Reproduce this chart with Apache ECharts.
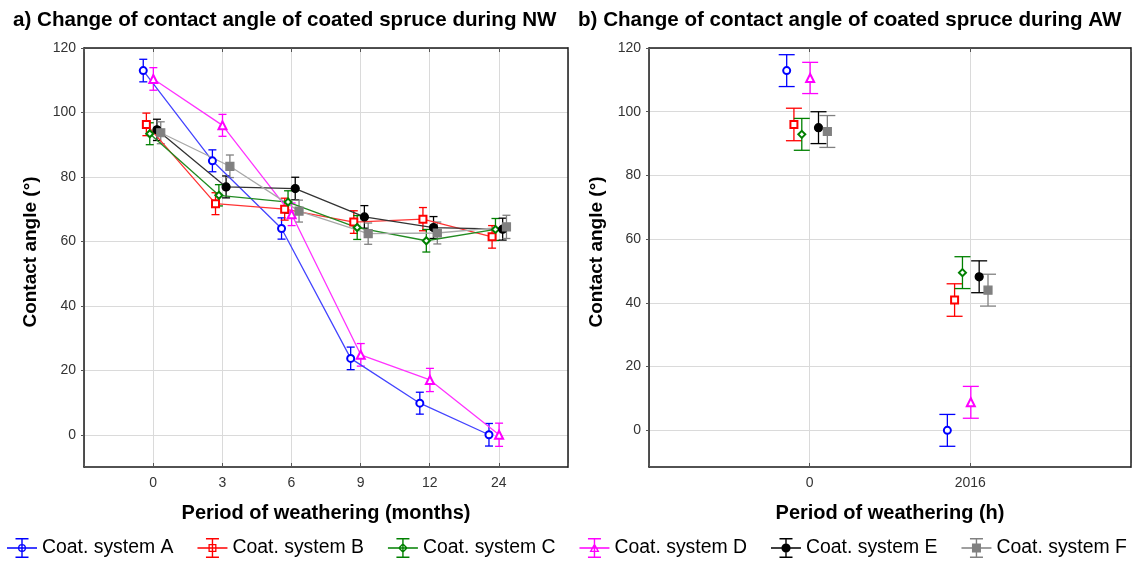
<!DOCTYPE html>
<html><head><meta charset="utf-8">
<script src="https://cdn.jsdelivr.net/npm/echarts@6/dist/echarts.min.js"></script>
<style>html,body{margin:0;padding:0;background:#fff}#c{width:1147px;height:561px}</style>
</head><body><div id="c"></div>
<script>
// ---- data ----
const monthLabels = ['0', '3', '6', '9', '12', '24'];
const hourLabels = ['0', '2016'];
const yTicks = [0, 20, 40, 60, 80, 100, 120];
const seriesNames = ['Coat. system A', 'Coat. system B', 'Coat. system C', 'Coat. system D', 'Coat. system E', 'Coat. system F'];

// a) natural weathering (NW): mean contact angle and error (±)
const nwA = [113.0, 85.0, 64.0, 23.7, 9.8, 0.0];
const nwB = [96.3, 71.7, 70.0, 66.0, 66.9, 61.4];
const nwC = [93.4, 74.3, 72.2, 64.3, 60.2, 63.7];
const nwD = [110.4, 96.0, 68.4, 24.8, 17.0, 0.0];
const nwE = [94.6, 76.9, 76.4, 67.6, 64.3, 63.8];
const nwF = [93.7, 83.3, 69.4, 62.4, 62.6, 64.5];
const nwErrA = [3.5, 3.4, 3.3, 3.5, 3.4, 3.5];
const nwErrB = [3.5, 3.4, 3.4, 3.5, 3.6, 3.5];
const nwErrC = [3.4, 3.3, 3.5, 3.7, 3.5, 3.4];
const nwErrD = [3.5, 3.4, 3.5, 3.5, 3.6, 3.6];
const nwErrE = [3.3, 3.4, 3.5, 3.5, 3.4, 3.4];
const nwErrF = [3.4, 3.5, 3.4, 3.3, 3.4, 3.6];

// b) artificial weathering (AW)
const awA = [112.9, 0.0];
const awB = [96.0, 40.9];
const awC = [92.9, 49.5];
const awD = [110.6, 8.8];
const awE = [95.0, 48.2];
const awF = [93.8, 44.0];
const awErrA = [5.0, 5.0];
const awErrB = [5.1, 5.1];
const awErrC = [5.0, 5.0];
const awErrD = [4.9, 5.0];
const awErrE = [5.0, 5.0];
const awErrF = [5.0, 5.0];

// ---- styling ----
const FONT = "'Liberation Sans', Arial, sans-serif";
const colors = ['#0000ff', '#ff0000', '#008000', '#ff00ff', '#000000', '#808080'];
const lineColors = ['#4444ff', '#ff3333', '#228b22', '#ff33ff', '#333333', '#a8a8a8'];
const symbols = ['emptyCircle', 'emptyRect', 'emptyDiamond', 'emptyTriangle', 'circle', 'rect'];
const symbolSizes = [7, 7, 7, 8, 8, 8];
const offsets = [-0.143, -0.098, -0.049, 0.003, 0.055, 0.11];
const nwVals = [nwA, nwB, nwC, nwD, nwE, nwF];
const nwErrs = [nwErrA, nwErrB, nwErrC, nwErrD, nwErrE, nwErrF];
const awVals = [awA, awB, awC, awD, awE, awF];
const awErrs = [awErrA, awErrB, awErrC, awErrD, awErrE, awErrF];

// legend icons (error bar + marker)
const base = 'M0 9.3H30V10.7H0Z M14.3 0H15.7V20H14.3Z M8.5 0H21.5V1.4H8.5Z M8.5 18.6H21.5V20H8.5Z ';
function circ(r, s) { return `M${15 + r} 10A${r} ${r} 0 1 ${s} ${15 - r} 10A${r} ${r} 0 1 ${s} ${15 + r} 10Z `; }
const markerPaths = [
  circ(4, 1) + circ(2.7, 0),
  'M11 6H19V14H11Z M12.3 7.3V12.7H17.7V7.3Z',
  'M15 5L20 10L15 15L10 10Z M15 6.9L11.9 10L15 13.1L18.1 10Z',
  'M15 5L20 14L10 14Z M15 7.8L12.4 12.7L17.6 12.7Z',
  circ(4.6, 1),
  'M10.5 5.5H19.5V14.5H10.5Z'
];

function errRender(cap) {
  return function (params, api) {
    const x = api.value(0), lo = api.value(1), hi = api.value(2);
    const t = api.coord([x, hi]), b = api.coord([x, lo]);
    const st = { stroke: api.visual('color'), lineWidth: 1.3, fill: null };
    return {
      type: 'group', children: [
        { type: 'line', shape: { x1: t[0], y1: t[1], x2: b[0], y2: b[1] }, style: st },
        { type: 'line', shape: { x1: t[0] - cap, y1: t[1], x2: t[0] + cap, y2: t[1] }, style: st },
        { type: 'line', shape: { x1: b[0] - cap, y1: b[1], x2: b[0] + cap, y2: b[1] }, style: st }
      ]
    };
  };
}

const series = [];
seriesNames.forEach((name, k) => {
  const c = colors[k], off = offsets[k];
  series.push({
    name, type: 'custom', xAxisIndex: 0, yAxisIndex: 0, z: 2,
    itemStyle: { color: c }, encode: { x: 0, y: [1, 2] },
    renderItem: errRender(4),
    data: nwVals[k].map((v, i) => [i + off, v - nwErrs[k][i], v + nwErrs[k][i]])
  });
  series.push({
    name, type: 'line', xAxisIndex: 0, yAxisIndex: 0, z: 3,
    symbol: symbols[k], symbolSize: symbolSizes[k],
    itemStyle: { color: c, borderColor: c, borderWidth: 1.2 },
    lineStyle: { color: lineColors[k], width: 1.3 },
    emphasis: { disabled: true },
    data: nwVals[k].map((v, i) => [i + off, v])
  });
  series.push({
    name, type: 'custom', xAxisIndex: 2, yAxisIndex: 2, z: 2,
    itemStyle: { color: c }, encode: { x: 0, y: [1, 2] },
    renderItem: errRender(8),
    data: awVals[k].map((v, i) => [i + off, v - awErrs[k][i], v + awErrs[k][i]])
  });
  series.push({
    name, type: 'scatter', xAxisIndex: 2, yAxisIndex: 2, z: 3,
    symbol: symbols[k], symbolSize: symbolSizes[k],
    itemStyle: { color: c, borderColor: c, borderWidth: 1.2, opacity: 1 },
    emphasis: { disabled: true },
    data: awVals[k].map((v, i) => [i + off, v])
  });
});

const axisLineStyle = { color: '#1a1a1a', width: 1.5 };
const gridLine = { show: true, lineStyle: { color: '#dadada', width: 1 } };
const labelStyle = { color: '#333', fontSize: 14, fontFamily: FONT };
const nameStyle = { color: '#000', fontSize: 20, fontWeight: 'bold', fontFamily: FONT };

function xBottom(grid, min, max, labels, name) {
  return {
    type: 'value', gridIndex: grid, position: 'bottom', min, max, interval: 1,
    axisLine: { show: true, onZero: false, lineStyle: axisLineStyle },
    axisTick: { show: true, inside: true, length: 4, lineStyle: { color: '#555' } },
    splitLine: gridLine,
    axisLabel: Object.assign({ margin: 9, formatter: v => (Number.isInteger(v) && labels[v] !== undefined) ? labels[v] : '' }, labelStyle),
    name, nameLocation: 'middle', nameGap: 36, nameTextStyle: nameStyle
  };
}
function xTop(grid, min, max) {
  return {
    type: 'value', gridIndex: grid, position: 'top', min, max, interval: 1,
    axisLine: { show: true, onZero: false, lineStyle: axisLineStyle },
    axisTick: { show: true, inside: true, length: 4, lineStyle: { color: '#555' } },
    splitLine: { show: false }, axisLabel: { show: false }
  };
}
function yLeft(grid, min) {
  return {
    type: 'value', gridIndex: grid, position: 'left', min, max: 120,
    axisLine: { show: true, onZero: false, lineStyle: axisLineStyle },
    axisTick: { show: true, length: 3, customValues: yTicks, lineStyle: { color: '#555' } },
    splitLine: gridLine,
    axisLabel: Object.assign({ margin: 8, customValues: yTicks }, labelStyle)
  };
}
function yRight(grid, min) {
  return {
    type: 'value', gridIndex: grid, position: 'right', min, max: 120,
    axisLine: { show: true, onZero: false, lineStyle: axisLineStyle },
    axisTick: { show: false }, splitLine: { show: false }, axisLabel: { show: false }
  };
}

const titleStyle = { fontSize: 20.6, fontWeight: 'bold', color: '#000', fontFamily: FONT };
const option = {
  animation: false,
  backgroundColor: '#fff',
  textStyle: { fontFamily: FONT },
  title: [
    { text: 'a) Change of contact angle of coated spruce during NW', left: 8, top: 5, textStyle: titleStyle },
    { text: 'b) Change of contact angle of coated spruce during AW', left: 573, top: 5, textStyle: titleStyle }
  ],
  grid: [
    { left: 84, top: 48, right: 579, bottom: 94 },
    { left: 649, top: 48, right: 16, bottom: 94 }
  ],
  xAxis: [
    xBottom(0, -1, 6, monthLabels, 'Period of weathering (months)'),
    xTop(0, -1, 6),
    xBottom(1, -1, 2, hourLabels, 'Period of weathering (h)'),
    xTop(1, -1, 2)
  ],
  yAxis: [yLeft(0, -10), yRight(0, -10), yLeft(1, -11.5), yRight(1, -11.5)],
  legend: {
    left: 2, top: 533, itemWidth: 30, itemHeight: 20, itemGap: 24,
    selectedMode: false,
    textStyle: { fontSize: 19.4, color: '#000', fontFamily: FONT },
    data: seriesNames.map((n, k) => ({
      name: n, icon: 'path://' + base + markerPaths[k],
      itemStyle: { color: colors[k], borderWidth: 0 }
    }))
  },
  graphic: [
    { type: 'text', x: 31, y: 252, rotation: Math.PI / 2,
      style: { text: 'Contact angle (°)', align: 'center', verticalAlign: 'middle', fill: '#000', font: "bold 19px 'Liberation Sans', Arial, sans-serif" } },
    { type: 'text', x: 597, y: 252, rotation: Math.PI / 2,
      style: { text: 'Contact angle (°)', align: 'center', verticalAlign: 'middle', fill: '#000', font: "bold 19px 'Liberation Sans', Arial, sans-serif" } }
  ],
  series
};

const chart = echarts.init(document.getElementById('c'), null, { renderer: 'canvas' });
chart.setOption(option);
</script>
</body></html>
